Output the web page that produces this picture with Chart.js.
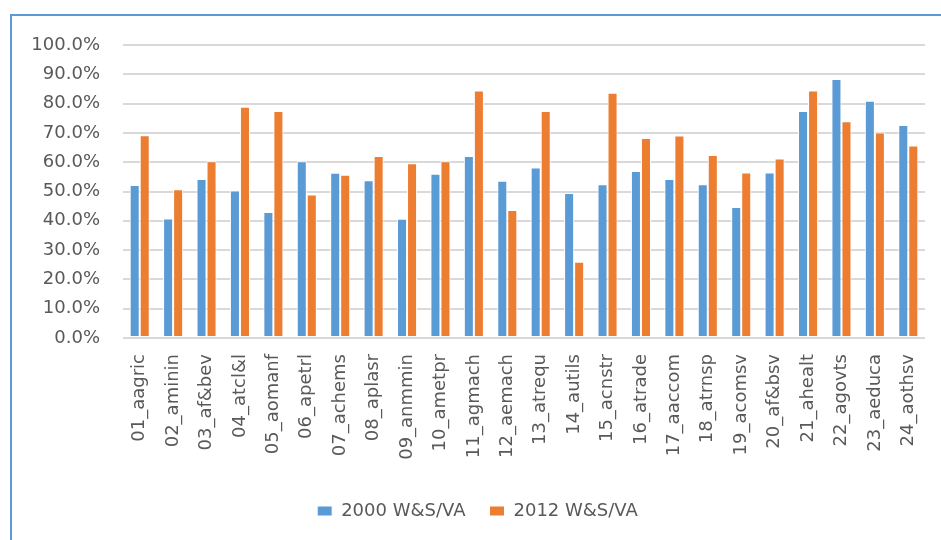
<!DOCTYPE html>
<html>
<head>
<meta charset="utf-8">
<script src="https://cdn.jsdelivr.net/npm/chart.js@4/dist/chart.umd.min.js"></script>
<style>
  html, body { margin: 0; padding: 0; background: #fff; overflow: hidden; }
  #wrap { position: relative; width: 941px; height: 540px; }
  #frame { position: absolute; left: 10px; top: 14px; width: 1000px; height: 600px;
           border: 2px solid #5B9BD5; pointer-events: none; }
</style>
</head>
<body>
<div id="wrap">
  <canvas id="chart" width="941" height="540"></canvas>
  <div id="frame"></div>
</div>
<script>
// sectors (x axis)
const sectors = ['01_aagric', '02_aminin', '03_af&bev', '04_atcl&l', '05_aomanf', '06_apetrl',
    '07_achems', '08_aplasr', '09_anmmin', '10_ametpr', '11_agmach', '12_aemach',
    '13_atrequ', '14_autils', '15_acnstr', '16_atrade', '17_aaccom', '18_atrnsp',
    '19_acomsv', '20_af&bsv', '21_ahealt', '22_agovts', '23_aeduca', '24_aothsv'];

// wage & salary share of value added, in %
const ws2000 = [52.2, 40.8, 54.3, 50.3, 43.0, 60.3, 56.4, 53.8, 40.7, 56.1, 62.1, 53.7,
    58.2, 49.5, 52.5, 57.0, 54.3, 52.5, 44.7, 56.5, 77.5, 88.4, 81.0, 72.7];
const ws2012 = [69.2, 50.8, 60.3, 78.9, 77.5, 49.0, 55.7, 62.1, 59.6, 60.3, 84.5, 43.7,
    77.5, 26.0, 83.7, 68.3, 69.1, 62.5, 56.5, 61.3, 84.5, 74.0, 70.1, 65.7];

const seriesNames = ['2000 W&S/VA', '2012 W&S/VA'];
const yTicksMax = 100;

const textColor = '#595959';
const font = 'DejaVu Sans';

const ctx = document.getElementById('chart').getContext('2d');
new Chart(ctx, {
    type: 'bar',
    data: {
        labels: sectors,
        datasets: [{
            label: seriesNames[0],
            data: ws2000,
            backgroundColor: '#5B9BD5',
            borderColor: '#ffffff',
            borderWidth: 1,
            borderSkipped: false,
        }, {
            label: seriesNames[1],
            data: ws2012,
            backgroundColor: '#ED7D31',
            borderColor: '#ffffff',
            borderWidth: 1,
            borderSkipped: false,
        }]
    },
    options: {
        responsive: false,
        animation: false,
        devicePixelRatio: 1,
        layout: { padding: { left: 30, right: 16, top: 45, bottom: 10 } },
        datasets: { bar: { categoryPercentage: 0.6, barPercentage: 1.0 } },
        plugins: {
            tooltip: { enabled: false },
            legend: {
                position: 'bottom',
                labels: {
                    color: textColor,
                    font: { family: font, size: 18 },
                    boxWidth: 15,
                    boxHeight: 10,
                    padding: 24,
                }
            }
        },
        scales: {
            x: {
                grid: { display: false },
                border: { display: false },
                ticks: {
                    color: textColor,
                    font: { family: font, size: 18 },
                    minRotation: 90,
                    maxRotation: 90,
                    autoSkip: false,
                    padding: 8,
                },
                afterFit: (s) => { s.height = 140; }
            },
            y: {
                min: 0,
                max: yTicksMax,
                border: { display: false },
                grid: { color: '#D9D9D9', lineWidth: 2, drawTicks: false },
                ticks: {
                    stepSize: 10,
                    color: textColor,
                    font: { family: font, size: 18 },
                    padding: 23,
                    callback: (v) => v.toFixed(1) + '%',
                },
                afterFit: (s) => { s.width = 93; }
            }
        }
    }
});
</script>
</body>
</html>
